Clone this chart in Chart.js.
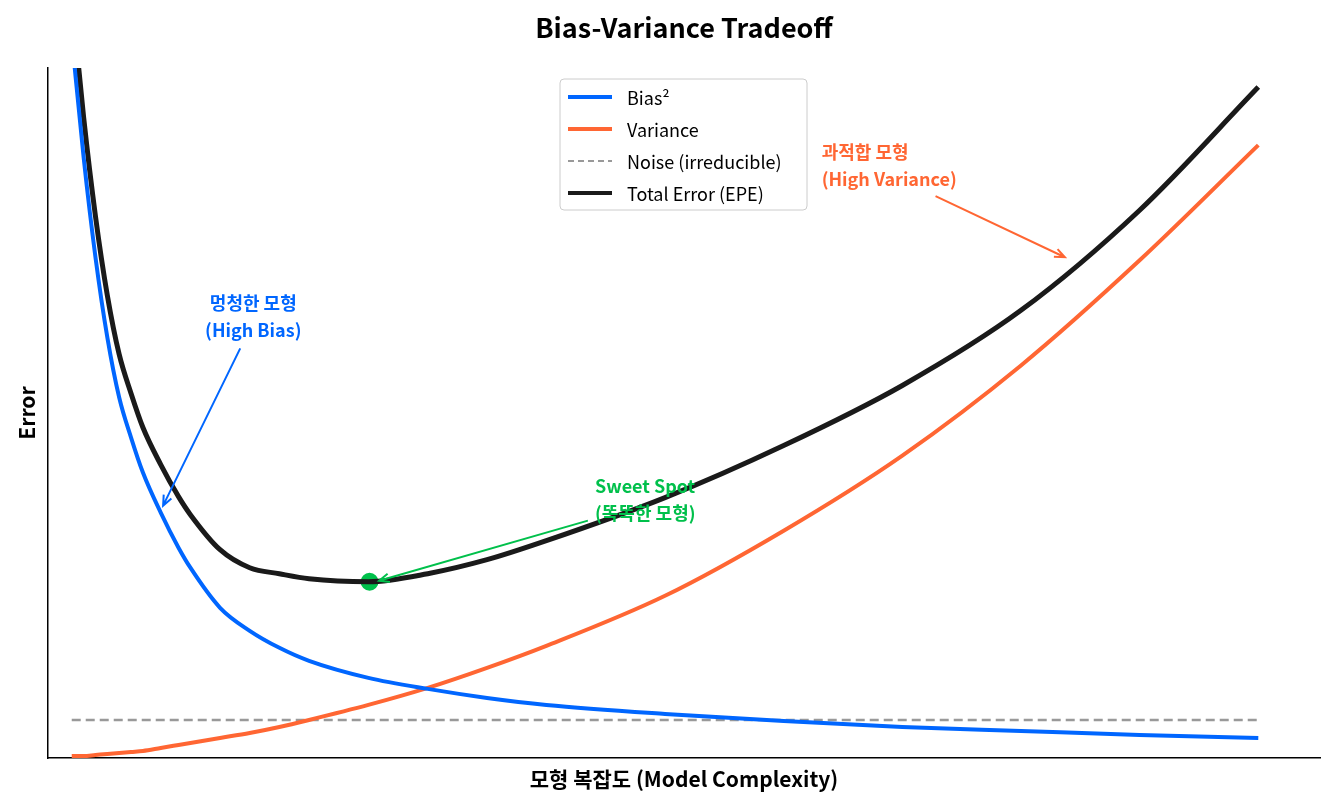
<!DOCTYPE html>
<html>
<head>
<meta charset="utf-8">
<script src="https://cdn.jsdelivr.net/npm/chart.js@4"></script>
<style>
  html, body { margin: 0; padding: 0; background: #fff; }
  #wrap { width: 1334px; height: 808px; }
</style>
</head>
<body>
<div id="wrap"><canvas id="chart"></canvas></div>
<script>
// model complexity (no tick labels in the picture)
const complexity = [0, 0.1, 0.2, 0.3, 0.4, 0.5, 0.6, 0.75, 0.9, 1, 1.25, 1.5, 1.75, 2, 2.5, 3, 3.5, 4, 5, 6, 7, 8, 9, 10];
const biasSq     = [7.2, 6.0, 5.0, 4.2, 3.6, 3.2, 2.85, 2.45, 2.1, 1.9, 1.5, 1.27, 1.1, 0.97, 0.8, 0.69, 0.6, 0.53, 0.44, 0.37, 0.31, 0.27, 0.23, 0.20];
const variance   = [0.02, 0.02, 0.03, 0.04, 0.05, 0.06, 0.07, 0.1, 0.13, 0.15, 0.2, 0.25, 0.31, 0.38, 0.53, 0.70, 0.9, 1.12, 1.62, 2.27, 3.02, 3.92, 4.97, 6.12];
const noise      = complexity.map(() => 0.38);
const totalError = [7.6, 6.4, 5.41, 4.62, 4.03, 3.64, 3.3, 2.93, 2.61, 2.43, 2.08, 1.9, 1.84, 1.79, 1.76, 1.84, 1.98, 2.17, 2.6, 3.12, 3.72, 4.47, 5.47, 6.70];
const sweetSpot  = { x: 2.51, y: 1.76 };

const font = '"Noto Sans CJK KR", "Noto Sans", sans-serif';
const pts = arr => complexity.map((x, i) => ({ x: x, y: arr[i] }));

const legendItems = [
  { label: 'Bias²', color: '#0066ff', dash: [] },
  { label: 'Variance', color: '#ff6633', dash: [] },
  { label: 'Noise (irreducible)', color: '#999999', dash: [6, 4] },
  { label: 'Total Error (EPE)', color: '#1a1a1a', dash: [] }
];

// text annotations, anchored in data coordinates
const notes = [
  { lines: ['멍청한 모형', '(High Bias)'], x: 1.53, y: 4.54, align: 'center', color: '#0066ff', from: [1.42, 4.09], to: [0.77, 2.52] },
  { lines: ['과적합 모형', '(High Variance)'], x: 6.32, y: 6.05, align: 'left', color: '#ff6633', from: [7.28, 5.61], to: [8.37, 5.0] },
  { lines: ['Sweet Spot', '(똑똑한 모형)'], x: 4.41, y: 2.71, align: 'left', color: '#00c04b', from: [4.35, 2.37], to: [2.59, 1.77] }
];

function arrow(ctx, x1, y1, x2, y2, color) {
  ctx.save();
  ctx.strokeStyle = color;
  ctx.lineWidth = 2;
  ctx.beginPath();
  ctx.moveTo(x1, y1);
  ctx.lineTo(x2, y2);
  const a = Math.atan2(y2 - y1, x2 - x1);
  ctx.moveTo(x2 - 11 * Math.cos(a - 0.4), y2 - 11 * Math.sin(a - 0.4));
  ctx.lineTo(x2, y2);
  ctx.lineTo(x2 - 11 * Math.cos(a + 0.4), y2 - 11 * Math.sin(a + 0.4));
  ctx.stroke();
  ctx.restore();
}

const decorations = {
  id: 'decorations',
  afterDraw(chart) {
    const ctx = chart.ctx;
    const xs = chart.scales.x, ys = chart.scales.y;
    const ca = chart.chartArea;
    ctx.save();
    ctx.fillStyle = '#000';
    ctx.textAlign = 'center';
    ctx.textBaseline = 'middle';
    ctx.font = 'bold 27px ' + font;
    ctx.fillText('Bias-Variance Tradeoff', (ca.left + ca.right) / 2, 28);
    ctx.font = 'bold 21px ' + font;
    ctx.fillText('모형 복잡도 (Model Complexity)', (ca.left + ca.right) / 2, 779);
    ctx.save();
    ctx.translate(27, (ca.top + ca.bottom) / 2);
    ctx.rotate(-Math.PI / 2);
    ctx.fillText('Error', 0, 0);
    ctx.restore();

    // annotations
    notes.forEach(n => {
      ctx.fillStyle = n.color;
      ctx.font = 'bold 18px ' + font;
      ctx.textAlign = n.align;
      const px = xs.getPixelForValue(n.x), py = ys.getPixelForValue(n.y);
      n.lines.forEach((l, i) => ctx.fillText(l, px, py + i * 27));
      arrow(ctx, xs.getPixelForValue(n.from[0]), ys.getPixelForValue(n.from[1]),
            xs.getPixelForValue(n.to[0]), ys.getPixelForValue(n.to[1]), n.color);
    });

    // legend box
    const lx = 560, ly = 79, lw = 247, lh = 131;
    ctx.fillStyle = 'rgba(255,255,255,0.9)';
    ctx.strokeStyle = '#cccccc';
    ctx.lineWidth = 1;
    ctx.beginPath();
    ctx.roundRect(lx, ly, lw, lh, 4);
    ctx.fill();
    ctx.stroke();
    ctx.font = '18px ' + font;
    ctx.textAlign = 'left';
    legendItems.forEach((it, i) => {
      const y = ly + 18 + i * 32;
      ctx.strokeStyle = it.color;
      ctx.lineWidth = i === 2 ? 2 : 4;
      ctx.setLineDash(it.dash);
      ctx.beginPath();
      ctx.moveTo(lx + 8, y);
      ctx.lineTo(lx + 52, y);
      ctx.stroke();
      ctx.setLineDash([]);
      ctx.fillStyle = '#000';
      ctx.fillText(it.label, lx + 67, y + 1);
    });
    ctx.restore();
  }
};

new Chart(document.getElementById('chart'), {
  type: 'line',
  data: {
    datasets: [
      { label: 'Bias²', data: pts(biasSq), borderColor: '#0066ff', borderWidth: 4, cubicInterpolationMode: 'monotone', pointRadius: 0 },
      { label: 'Variance', data: pts(variance), borderColor: '#ff6633', borderWidth: 4, cubicInterpolationMode: 'monotone', pointRadius: 0 },
      { label: 'Noise (irreducible)', data: pts(noise), borderColor: '#999999', borderWidth: 2.5, borderDash: [9, 5], pointRadius: 0 },
      { label: 'Total Error (EPE)', data: pts(totalError), borderColor: '#1a1a1a', borderWidth: 5, cubicInterpolationMode: 'monotone', pointRadius: 0 },
      { label: 'Sweet Spot', data: [sweetSpot], borderColor: '#ffffff', backgroundColor: '#00c04b', pointRadius: 10, pointBorderWidth: 2, showLine: false }
    ]
  },
  options: {
    responsive: true,
    maintainAspectRatio: false,
    animation: false,
    layout: { padding: { left: 40, right: 14, top: 68, bottom: 42 } },
    plugins: { legend: { display: false }, tooltip: { enabled: false } },
    scales: {
      x: { type: 'linear', min: -0.2, max: 10.52, grid: { display: false }, ticks: { display: false }, border: { color: '#000', width: 1.5 } },
      y: { min: 0, max: 6.89, grid: { display: false }, ticks: { display: false }, border: { color: '#000', width: 1.5 } }
    }
  },
  plugins: [decorations]
});
</script>
</body>
</html>
